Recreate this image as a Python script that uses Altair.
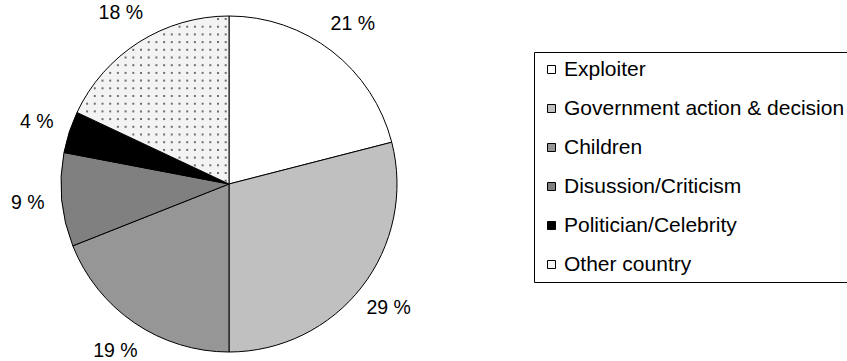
import math
import altair as alt
import pandas as pd

categories = ["Exploiter", "Government action & decision", "Children",
              "Disussion/Criticism", "Politician/Celebrity", "Other country"]
values = [21, 29, 19, 9, 4, 18]
colors = ["#ffffff", "#c0c0c0", "#969696", "#808080", "#000000", "#f3f3f3"]

CX, CY, R = 229, 184, 168
FONT = "Liberation Sans"
FS = 19.5
LFS = 21

df = pd.DataFrame({
    "category": categories,
    "value": values,
    "order": list(range(len(values))),
    "label": [f"{v} %" for v in values],
})

total = sum(values)
a0 = 2 * math.pi * sum(values[:-1]) / total
a1 = 2 * math.pi

color_scale = alt.Scale(domain=categories, range=colors)

base = alt.Chart(df).encode(
    theta=alt.Theta("value:Q", stack=True),
    order=alt.Order("order:Q"),
)

arcs = base.mark_arc(radius=R, stroke="black", strokeWidth=1).encode(
    x=alt.value(CX), y=alt.value(CY),
    color=alt.Color("category:N", scale=color_scale, sort=categories,
                    legend=alt.Legend(
                        title=None, orient="none", legendX=534, legendY=52,
                        strokeColor="black", fillColor="white", padding=7,
                        symbolType="square", symbolSize=64,
                        symbolStrokeColor="black", symbolStrokeWidth=1,
                        labelFont=FONT, labelFontSize=LFS, labelColor="black",
                        labelOffset=2, rowPadding=17, labelLimit=400,
                    )),
)

labels = base.mark_text(radius=202, font=FONT, fontSize=FS, color="black").encode(
    x=alt.value(CX), y=alt.value(CY),
    text="label:N",
)

# dotted texture for the "Other country" wedge
STEP = 7.7
NC = 24
dots = alt.Chart(alt.sequence(0, NC * NC)).transform_calculate(
    px=f"{CX - R} + 3 + (datum.data % {NC}) * {STEP}",
    py=f"{CY - R} + 3 + floor(datum.data / {NC}) * {STEP}",
).transform_calculate(
    dx=f"datum.px - {CX}", dy=f"datum.py - {CY}",
).transform_calculate(
    rr="sqrt(datum.dx*datum.dx + datum.dy*datum.dy)",
    ang="atan2(datum.dx, -datum.dy) < 0 ? atan2(datum.dx, -datum.dy) + 2*PI : atan2(datum.dx, -datum.dy)",
).transform_filter(
    f"datum.rr < {R - 2} && datum.ang > {a0 + 0.03} && datum.ang < {a1 - 0.01}"
).mark_square(size=4, color="#707070", opacity=1).encode(
    x=alt.X("px:Q", scale=None, axis=None),
    y=alt.Y("py:Q", scale=None, axis=None),
)

chart = alt.layer(arcs, dots, labels).properties(
    width=847, height=361, padding=0,
    autosize=alt.AutoSizeParams(type="none"),
).configure_view(stroke=None)

chart.save("out.html", embed_options={"renderer": "svg", "actions": False})
